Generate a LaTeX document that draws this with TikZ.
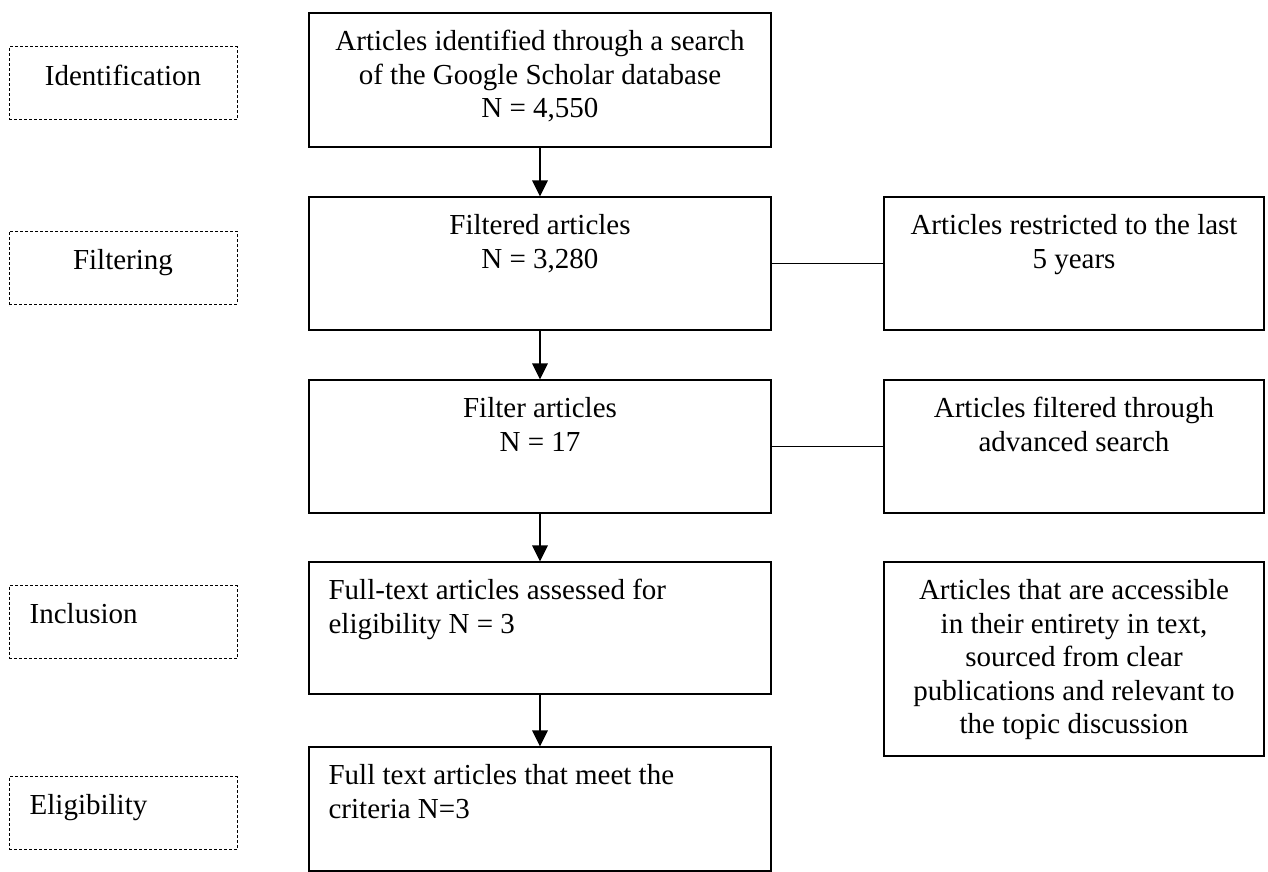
\documentclass[tikz,border=0pt]{standalone}
\usepackage{fontspec}
\setmainfont{Liberation Serif}
\usetikzlibrary{arrows.meta}
\begin{document}
\begin{tikzpicture}[x=1pt,y=-1pt,
  box/.style={draw, line width=1.2pt, inner sep=0pt},
  mainbox/.style={box, minimum width=462pt},
  sidebox/.style={box, minimum width=380pt},
  phase/.style={draw, line width=1pt, dash pattern=on 3pt off 2pt, inner sep=0pt, minimum width=228pt, minimum height=73pt},
  txt/.style={inner sep=0pt, font=\fontsize{29}{33.5}\selectfont},
  arr/.style={line width=1.3pt, -{Triangle[width=15.6pt,length=16pt]}},
  link/.style={line width=1.3pt}]
\useasboundingbox (0,0) rectangle (1268,872);

% phase boxes
\node[phase] (p1) at (123,83.5) {};
\node[phase] (p2) at (123,267.5) {};
\node[phase] (p3) at (123,622) {};
\node[phase] (p4) at (123,813) {};

% main column
\node[mainbox, minimum height=134pt] (b1) at (540,80) {};
\node[mainbox, minimum height=133pt] (b2) at (540,263.5) {};
\node[mainbox, minimum height=133pt] (b3) at (540,446.5) {};
\node[mainbox, minimum height=132pt] (b4) at (540,628) {};
\node[mainbox, minimum height=124pt] (b5) at (540,809) {};

% side column
\node[sidebox, minimum height=133pt] (r1) at (1074,263.5) {};
\node[sidebox, minimum height=133pt] (r2) at (1074,446.5) {};
\node[sidebox, minimum height=194pt] (r3) at (1074,659) {};

% texts
\node[txt, anchor=north, align=center] (tp1) at ([yshift=-14.9pt]p1.north) {\strut Identification};
\node[txt, anchor=north, align=center] (tp2) at ([yshift=-14.9pt]p2.north) {\strut Filtering};
\node[txt, anchor=north west, align=left] (tp3) at ([xshift=21pt,yshift=-14.9pt]p3.north west) {\strut Inclusion};
\node[txt, anchor=north west, align=left] (tp4) at ([xshift=21pt,yshift=-14.9pt]p4.north west) {\strut Eligibility};

\node[txt, anchor=north, align=center] (tb1) at ([yshift=-14.9pt]b1.north) {\strut Articles identified through a search\\of the Google Scholar database\\N = 4,550};
\node[txt, anchor=north, align=center] (tb2) at ([yshift=-14.9pt]b2.north) {\strut Filtered articles\\N = 3,280};
\node[txt, anchor=north, align=center] (tb3) at ([yshift=-14.9pt]b3.north) {\strut Filter articles\\N = 17};
\node[txt, anchor=north west, align=left] (tb4) at ([xshift=20pt,yshift=-14.9pt]b4.north west) {\strut Full-text articles assessed for\\eligibility N = 3};
\node[txt, anchor=north west, align=left] (tb5) at ([xshift=20pt,yshift=-14.9pt]b5.north west) {\strut Full text articles that meet the\\criteria N=3};

\node[txt, anchor=north, align=center] (tr1) at ([yshift=-14.9pt]r1.north) {\strut Articles restricted to the last\\5 years};
\node[txt, anchor=north, align=center] (tr2) at ([yshift=-14.9pt]r2.north) {\strut Articles filtered through\\advanced search};
\node[txt, anchor=north, align=center] (tr3) at ([yshift=-14.9pt]r3.north) {\strut Articles that are accessible\\in their entirety in text,\\sourced from clear\\publications and relevant to\\the topic discussion};

% connectors
\draw[arr] (b1.south) -- (b2.north);
\draw[arr] (b2.south) -- (b3.north);
\draw[arr] (b3.south) -- (b4.north);
\draw[arr] (b4.south) -- (b5.north);
\draw[link] (b2.east) -- (r1.west);
\draw[link] (b3.east) -- (r2.west);
\end{tikzpicture}
\end{document}
